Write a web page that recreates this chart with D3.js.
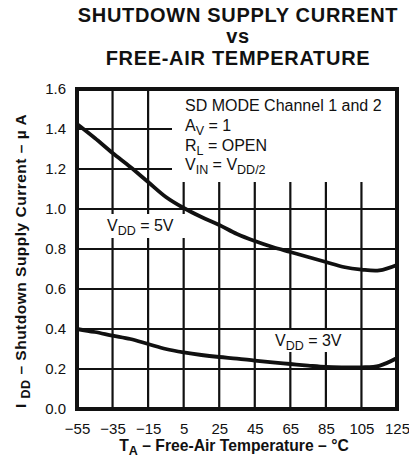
<!DOCTYPE html>
<html>
<head>
<meta charset="utf-8">
<script src="https://cdn.jsdelivr.net/npm/d3@7"></script>
<style>
  html, body { margin: 0; padding: 0; background: #fff; }
  svg { display: block; font-family: "Liberation Sans", Arial, sans-serif; }
</style>
</head>
<body>
<svg id="chart" width="409" height="459"></svg>
<script>
// Temperature sweep (°C) shared by both supply curves
const temperatures = [-55, -45, -35, -25, -15, -5, 5, 15, 25, 35, 45, 55, 65, 75, 85, 95, 105, 115, 125];
// Shutdown supply current (µA) at VDD = 5 V
const current5V = [1.425, 1.355, 1.28, 1.21, 1.135, 1.06, 1.005, 0.96, 0.92, 0.875, 0.84, 0.81, 0.785, 0.76, 0.735, 0.71, 0.697, 0.693, 0.72];
// Shutdown supply current (µA) at VDD = 3 V
const current3V = [0.40, 0.385, 0.367, 0.35, 0.325, 0.30, 0.283, 0.27, 0.26, 0.252, 0.242, 0.233, 0.225, 0.217, 0.21, 0.208, 0.208, 0.216, 0.255];
// Axis ticks
const xTicks = [-55, -35, -15, 5, 25, 45, 65, 85, 105, 125];
const yTicks = [0.0, 0.2, 0.4, 0.6, 0.8, 1.0, 1.2, 1.4, 1.6];

const svg = d3.select("#chart");
const plot = { left: 77, right: 397, top: 89, bottom: 409 };

const x = d3.scaleLinear().domain([-55, 125]).range([plot.left, plot.right]);
const y = d3.scaleLinear().domain([0, 1.6]).range([plot.bottom, plot.top]);

// Title
const title = svg.append("g")
  .attr("font-weight", "bold")
  .attr("font-size", 20)
  .attr("letter-spacing", 0.7)
  .attr("fill", "#111")
  .attr("text-anchor", "middle");
[["SHUTDOWN SUPPLY CURRENT", 22], ["vs", 43], ["FREE-AIR TEMPERATURE", 65]].forEach(([t, by]) => {
  title.append("text").attr("x", 238).attr("y", by).text(t);
});

// Grid
const grid = svg.append("g").attr("stroke", "#111").attr("stroke-width", 2.2);
grid.selectAll("line.v").data(xTicks.slice(1, -1)).join("line")
  .attr("class", "v")
  .attr("x1", d => x(d)).attr("x2", d => x(d))
  .attr("y1", plot.top).attr("y2", plot.bottom);
grid.selectAll("line.h").data(yTicks.slice(1, -1)).join("line")
  .attr("class", "h")
  .attr("x1", plot.left).attr("x2", plot.right)
  .attr("y1", d => y(d)).attr("y2", d => y(d));

// Axes (labels only; the frame is drawn separately)
const xAxis = svg.append("g")
  .attr("transform", `translate(0,${plot.bottom})`)
  .call(d3.axisBottom(x).tickValues(xTicks).tickSize(0).tickPadding(14)
    .tickFormat(d => d3.format("d")(d).replace("-", "\u2013")));
const yAxis = svg.append("g")
  .attr("transform", `translate(${plot.left},0)`)
  .call(d3.axisLeft(y).tickValues(yTicks).tickSize(0).tickPadding(11)
    .tickFormat(d3.format(".1f")));
[xAxis, yAxis].forEach(a => {
  a.select(".domain").remove();
  a.selectAll("text").attr("font-size", 15).attr("fill", "#111")
    .attr("font-family", "'Liberation Sans', Arial, sans-serif");
});

// White boxes behind annotations
const boxes = svg.append("g").attr("fill", "#fff");
boxes.append("rect").attr("x", 172).attr("y", plot.top).attr("width", plot.right - 172).attr("height", 93);
boxes.append("rect").attr("x", 104).attr("y", 214).attr("width", 81).attr("height", 24);
boxes.append("rect").attr("x", 272).attr("y", 330).attr("width", 73).attr("height", 22);

// Curves
const line = d3.line().x(d => x(d[0])).y(d => y(d[1])).curve(d3.curveCatmullRom.alpha(0.5));
[current5V, current3V].forEach(series => {
  svg.append("path")
    .datum(temperatures.map((t, i) => [t, series[i]]))
    .attr("fill", "none")
    .attr("stroke", "#111")
    .attr("stroke-width", 3.8)
    .attr("stroke-linejoin", "round")
    .attr("d", line);
});

// Frame
svg.append("rect")
  .attr("x", plot.left).attr("y", plot.top)
  .attr("width", plot.right - plot.left).attr("height", plot.bottom - plot.top)
  .attr("fill", "none").attr("stroke", "#111").attr("stroke-width", 4);

// Helper for text with subscripts: parts = [[text, isSub], ...]
function richText(g, px, py, parts, size, subSize, anchor) {
  const t = g.append("text").attr("x", px).attr("y", py)
    .attr("font-size", size).attr("fill", "#111")
    .attr("text-anchor", anchor || "start");
  let sub = false;
  parts.forEach(([s, isSub]) => {
    const span = t.append("tspan").text(s);
    if (isSub && !sub) span.attr("dy", 4).attr("font-size", subSize);
    else if (!isSub && sub) span.attr("dy", -4);
    else if (isSub) span.attr("font-size", subSize);
    sub = isSub;
  });
  return t;
}

// Condition notes
const notes = svg.append("g").attr("xml:space", "preserve");
richText(notes, 185, 111, [["SD MODE Channel 1 and 2", false]], 16, 12.5);
richText(notes, 185, 131, [["A", false], ["V", true], ["  = 1", false]], 16, 12.5);
richText(notes, 185, 151, [["R", false], ["L", true], [" = OPEN", false]], 16, 12.5);
richText(notes, 185, 170, [["V", false], ["IN", true], [" = V", false], ["DD/2", true]], 16, 12.5);

// Curve labels
richText(notes, 107, 231, [["V", false], ["DD", true], [" = 5V", false]], 16, 12.5);
richText(notes, 275, 346, [["V", false], ["DD", true], [" = 3V", false]], 16, 12.5);

// Axis titles
const xt = svg.append("g").attr("font-weight", "bold");
richText(xt, 234, 451, [["T", false], ["A", true], [" \u2013 Free-Air Temperature \u2013 \u00B0C", false]], 15.7, 12.5, "middle");

const yt = svg.append("g").attr("font-weight", "bold").attr("letter-spacing", 0.5)
  .attr("transform", "translate(26,261) rotate(-90)");
richText(yt, 0, 0, [["I ", false], ["DD", true], [" \u2013 Shutdown Supply Current \u2013 \u00B5 A", false]], 15.5, 12.5, "middle");
</script>
</body>
</html>
